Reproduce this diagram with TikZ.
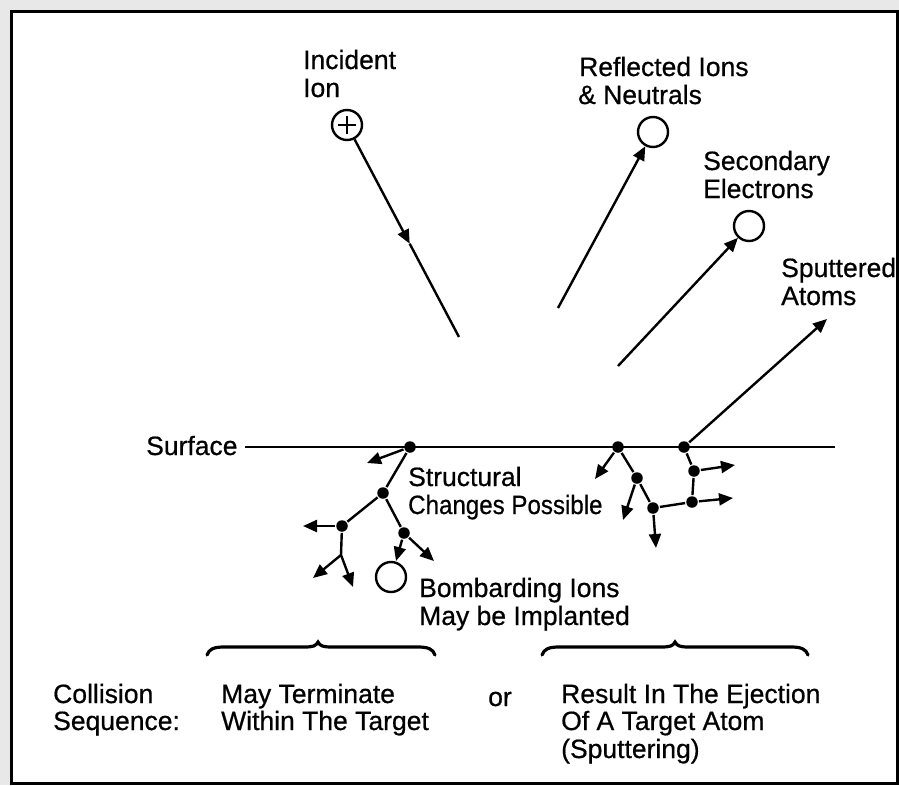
\documentclass[tikz,border=0pt]{standalone}
\usepackage{fontspec}
\usepackage{graphicx}
\setmainfont[FakeBold=0.6]{Liberation Sans}
\usetikzlibrary{arrows.meta}
\begin{document}
\begin{tikzpicture}[x=1pt,y=-1pt,line width=2.4pt,
  dot/.style={circle,fill=black,inner sep=0pt,minimum size=11.5pt},
  part/.style={circle,draw,line width=2.4pt,inner sep=0pt,minimum size=30pt},
  lbl/.style={anchor=base west,inner sep=0pt,font=\fontsize{26.5}{28}\selectfont},
  arr/.style={-{Triangle[length=14pt,width=12pt]}},
  bracepath/.style={line width=3.2pt,line cap=round}]
\useasboundingbox (0,0) rectangle (899,785);
% frame
\fill[gray!18] (0,0) rectangle (899,785);
\filldraw[fill=white,draw=black,line width=3pt] (11.5,11.5) rectangle (897.5,783.5);

% particles above the surface
\node[part] (ion) at (347,125) {};
\draw[line width=1.8pt] ([xshift=-9pt]ion.center) -- ([xshift=9pt]ion.center)
  ([yshift=-9pt]ion.center) -- ([yshift=9pt]ion.center);
\coordinate (inmid) at (409.7,243.7);
\coordinate (inend) at (459,337);
\draw[arr] (ion) -- (inmid);
\draw (inmid) -- (inend);

\node[part] (refl) at (653,132) {};
\coordinate (reflstart) at (558,308);
\draw[arr] (reflstart) -- (refl);

\node[part] (sec) at (749,226) {};
\coordinate (secstart) at (618,366);
\draw[arr] (secstart) -- (sec);

% surface
\coordinate (surfL) at (245,447);
\coordinate (surfR) at (835,447);
\draw (surfL) -- (surfR);

% left collision tree
\node[dot] (A) at (410,447) {};
\node[dot] (B) at (383,493) {};
\node[dot] (C) at (342,526) {};
\node[dot] (D) at (404,533) {};
\coordinate (K) at (341,555);
\coordinate (a1) at (367,463);
\coordinate (c1) at (303,526);
\coordinate (k1) at (313,578);
\coordinate (k2) at (353,587);
\coordinate (d1) at (396,561);
\coordinate (d2) at (434,561);
\draw[arr] (A) -- (a1);
\draw (A) -- (B) -- (C);
\draw (B) -- (D);
\draw[arr] (C) -- (c1);
\draw (C) -- (K);
\draw[arr] (K) -- (k1);
\draw[arr] (K) -- (k2);
\draw[arr] (D) -- (d1);
\draw[arr] (D) -- (d2);
\node[part] (impl) at (391,577) {};

% right collision tree
\node[dot] (E) at (618,447) {};
\node[dot] (F) at (684,447) {};
\node[dot] (G) at (637,478) {};
\node[dot] (H) at (653,508) {};
\node[dot] (I) at (692,502) {};
\node[dot] (J) at (694,471) {};
\coordinate (e1) at (595,479);
\coordinate (g1) at (623,520);
\coordinate (h1) at (656,548);
\coordinate (i1) at (733,498);
\coordinate (j1) at (735,465);
\coordinate (sput) at (827,319);
\draw[arr] (E) -- (e1);
\draw (E) -- (G) -- (H) -- (I) -- (J) -- (F);
\draw[arr] (G) -- (g1);
\draw[arr] (H) -- (h1);
\draw[arr] (I) -- (i1);
\draw[arr] (J) -- (j1);
\draw[arr] (F) -- (sput);

% labels
\node[lbl] (t1) at (302,69) {Incident};
\node[lbl] (t2) at (302,97) {Ion};
\node[lbl] (t3) at (578,76) {Reflected Ions};
\node[lbl] (t4) at (577,104) {\& Neutrals};
\node[lbl] (t5) at (702,170) {Secondary};
\node[lbl] (t6) at (702,198) {Electrons};
\node[lbl] (t7) at (780,277) {Sputtered};
\node[lbl] (t8) at (780,305) {Atoms};
\node[lbl] (t9) at (145,455) {Surface};
\node[lbl] (t10) at (407,486) {Structural};
\node[lbl] (t11) at (407,514) {\scalebox{0.91}[1]{Changes Possible}};
\node[lbl] (t12) at (418,597) {Bombarding Ions};
\node[lbl] (t13) at (418,625) {May be Implanted};

% braces
\draw[bracepath] (207,655) .. controls (209,649) and (214,647) .. (224,647)
  -- (304,647) .. controls (313,647) and (316,646) .. (318,642)
  .. controls (320,646) and (323,647) .. (332,647)
  -- (418,647) .. controls (428,647) and (433,649) .. (435,655);
\draw[bracepath] (542,655) .. controls (544,649) and (549,647) .. (559,647)
  -- (661,647) .. controls (670,647) and (673,646) .. (675,642)
  .. controls (677,646) and (680,647) .. (689,647)
  -- (791,647) .. controls (801,647) and (806,649) .. (808,655);

% bottom text
\node[lbl] (b1) at (52,703) {Collision};
\node[lbl] (b2) at (52,730) {Sequence:};
\node[lbl] (b3) at (220,703) {May Terminate};
\node[lbl] (b4) at (220,730) {Within The Target};
\node[lbl] (b5) at (487,706) {or};
\node[lbl] (b6) at (560,703) {Result In The Ejection};
\node[lbl] (b7) at (560,730) {Of A Target Atom};
\node[lbl] (b8) at (560,758) {(Sputtering)};
\end{tikzpicture}
\end{document}
